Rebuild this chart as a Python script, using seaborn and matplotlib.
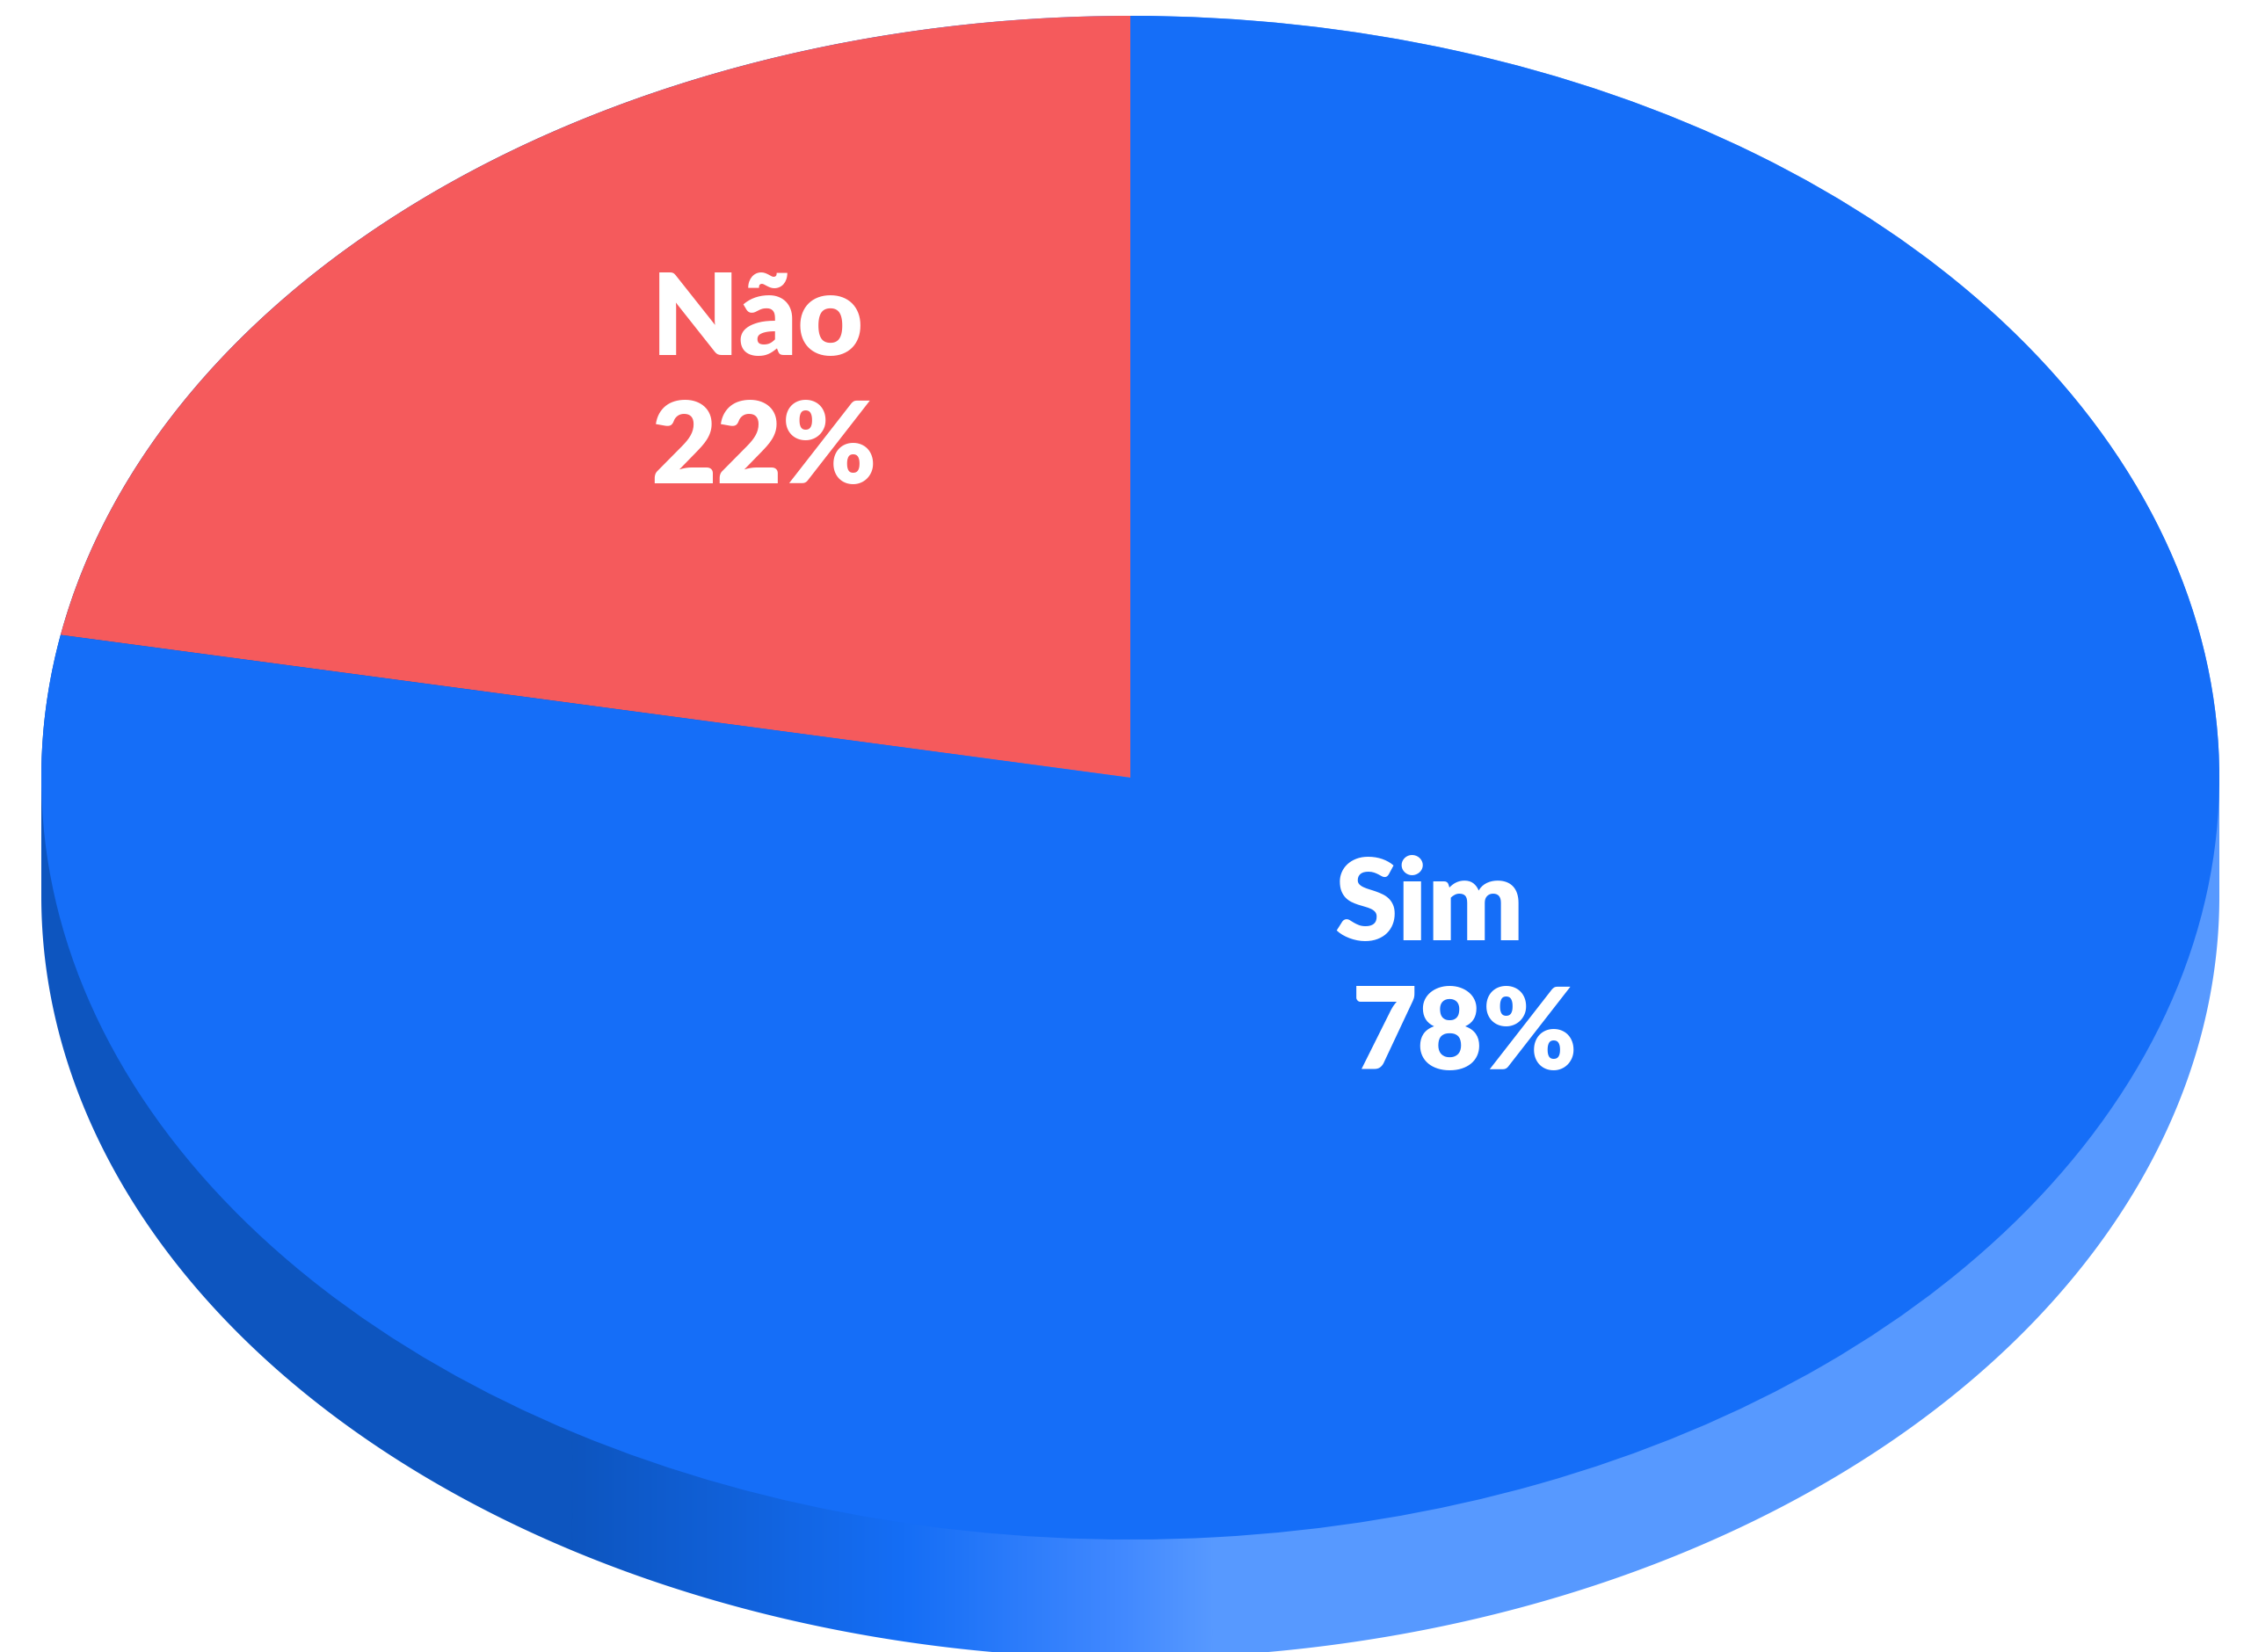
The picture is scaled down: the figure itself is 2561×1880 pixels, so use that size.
import numpy as np
import seaborn as sns
import matplotlib.pyplot as plt
from matplotlib.colors import LinearSegmentedColormap
from matplotlib.patches import Polygon

# data
categories = ["Não", "Sim"]
values = [22, 78]
colors = ["#f55a5c", "#156ef8"]

# side band gradient, position in pixels
grad_x = [650, 1030, 1270, 1380]
grad_colors = ["#0d55bf", "#156ef6", "#4088ff", "#5799ff"]

W, H = 2561, 1880
cx, cy = 1286, 885
rx, ry = 1239, 867
depth = 135

sns.set_theme(style="white")
plt.rcParams["font.family"] = ["Lato", "DejaVu Sans"]

fig = plt.figure(figsize=(W / 100, H / 100), dpi=100, facecolor="white")
ax = fig.add_axes([0, 0, 1, 1])

# unit circle in data coords, limits stretch it to the ellipse
xlim = (-cx / rx, (W - cx) / rx)
ylim = ((cy - H) / ry, cy / ry)


def px(x):
    return (x - cx) / rx


def py(y):
    return (cy - y) / ry


# extruded side
t = np.linspace(0, 2 * np.pi, 3000)
side = np.column_stack([np.cos(t), np.sin(t) - np.where(t > np.pi, depth / ry, 0)])
pos = (np.array(grad_x) - grad_x[0]) / (grad_x[-1] - grad_x[0])
cmap = LinearSegmentedColormap.from_list("side", list(zip(pos, grad_colors)))
img = ax.imshow(np.linspace(0, 1, 1024).reshape(1, -1), cmap=cmap, aspect="auto",
                extent=(px(grad_x[0]), px(grad_x[-1]), ylim[0], ylim[1]), zorder=1)
clip = Polygon(side, closed=True, transform=ax.transData, fc="none", ec="none")
ax.add_patch(clip)
img.set_clip_path(clip)
# flat ends of the gradient
for x0, x1, c in [(-1.01, px(grad_x[0]), grad_colors[0]), (px(grad_x[-1]), 1.01, grad_colors[-1])]:
    band = ax.axvspan(x0, x1, color=c, lw=0, zorder=1)
    band.set_clip_path(clip)

# top face
wedges, _ = ax.pie(values, colors=colors, startangle=90, counterclock=True,
                   radius=1, center=(0, 0), wedgeprops={"linewidth": 0, "zorder": 2})

ax.set_aspect("auto")
ax.set_xlim(*xlim)
ax.set_ylim(*ylim)
ax.axis("off")

# labels
name_pos = [(741, 404), (1518, 1070)]
value_pos = [(740, 550), (1538, 1217)]
for cat, val, np_, vp in zip(categories, values, name_pos, value_pos):
    ax.text(px(np_[0]), py(np_[1]), cat, color="white", fontsize=93, fontweight="heavy",
            ha="left", va="baseline", zorder=3)
    ax.text(px(vp[0]), py(vp[1]), f"{val}%", color="white", fontsize=93, fontweight="heavy",
            ha="left", va="baseline", zorder=3)

fig.savefig("out.png", dpi=100, facecolor="white")
